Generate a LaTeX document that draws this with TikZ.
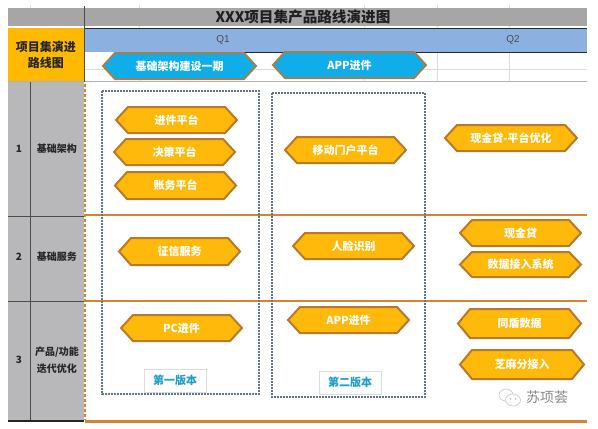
\documentclass[tikz,border=0pt]{standalone}
\usepackage{fontspec}
\setmainfont{Noto Sans CJK SC}
\newfontfamily\qfont{Liberation Sans}
\usetikzlibrary{calc}
\definecolor{hexo}{HTML}{FFB90A}
\definecolor{hexe}{HTML}{B8792A}
\definecolor{hexb}{HTML}{0FAEEA}
\definecolor{hexbe}{HTML}{A08050}
\definecolor{bandg}{HTML}{A6A6A6}
\definecolor{cellg}{HTML}{B8B8BA}
\definecolor{qblue}{HTML}{8CB1E0}
\definecolor{hdr}{HTML}{FFBA00}
\definecolor{rule}{HTML}{D9822F}
\definecolor{dots}{HTML}{5F7389}
\definecolor{grid}{HTML}{DDDDDD}
\definecolor{navy}{HTML}{1F2A3C}
\definecolor{wmk}{HTML}{8A8A8A}
\definecolor{verblue}{HTML}{1E9EC8}
\tikzset{
  hexshape/.style={draw=hexe,fill=hexo,line width=2pt,line join=miter},
  hexblue/.style={draw=hexbe,fill=hexb,line width=2pt,line join=miter},
  hextext/.style={text=white,font=\fontsize{11}{12}\selectfont\bfseries,inner sep=0pt},
  rowtext/.style={text=black!85,font=\fontsize{10}{17}\selectfont\bfseries,align=center,inner sep=0pt},
  numtext/.style={text=black!85,font=\fontsize{10}{12}\selectfont\bfseries,inner sep=0pt},
  dotbox/.style={draw=dots,line width=2.4pt,dash pattern=on 1.7pt off 1.3pt},
  verbox/.style={draw=grid,fill=white,line width=0.8pt,text=verblue,font=\fontsize{11}{12}\selectfont\bfseries},
  gridline/.style={draw=grid,line width=0.5pt},
  darkline/.style={draw=navy,line width=0.9pt},
}
\newcommand{\hexn}[7][hexshape]{%
  \draw[#1] (#3,#6) -- (#3+12,#5) -- (#4-12,#5) -- (#4,#6) -- (#4-12,2*#6-#5) -- (#3+12,2*#6-#5) -- cycle;
  \node[hextext] (#2) at ({(#3+#4)/2},#6) {#7};
}
\begin{document}
\begin{tikzpicture}[x=1pt,y=-1pt]
\useasboundingbox (0,0) rectangle (598,429);
\fill[white] (0,0) rectangle (598,429);
% light grid
\foreach \xx in {139,364,437,509} \draw[gridline] (\xx,5) -- (\xx,82);
\draw[gridline] (85,69) -- (587,69);
\draw[gridline] (30,5) -- (30,8);
% title band
\fill[bandg] (7.5,8) rectangle (587,26);
\node[inner sep=0pt,font=\fontsize{14.6}{16}\selectfont\bfseries,text=black!88] (title) at (303,17) {XXX项目集产品路线演进图};
% header
\fill[hdr] (7.5,28) rectangle (84,81);
\node[inner sep=0pt,align=center,text=black!85,font=\fontsize{12}{16}\selectfont\bfseries] (hdrtext) at (46,55) {项目集演进\\路线图};
% Q band
\fill[qblue] (85,28) rectangle (587,52);
\draw[darkline] (85,28) -- (587,28);
\draw[darkline] (139,52) -- (587,52);
\node[inner sep=0pt,text=black!70,font=\fontsize{10}{12}\selectfont\qfont] (q1) at (223,40) {Q1};
\node[inner sep=0pt,text=black!70,font=\fontsize{10}{12}\selectfont\qfont] (q2) at (513,40) {Q2};
% left cells
\fill[cellg] (7.5,82) rectangle (84,420);
\draw[gridline,draw=black!30] (8,81.5) -- (587,81.5);
\draw[draw=black!70,line width=0.7pt] (30.5,82) -- (30.5,420);
\draw[draw=black!70,line width=1pt] (7.5,216) -- (84,216);
\draw[draw=black!70,line width=1pt] (7.5,301) -- (84,301);
\draw[draw=black!85,line width=1.6pt] (7.5,421) -- (84,421);
\draw[draw=black!70,line width=0.7pt] (84.5,6) -- (84.5,82);
\node[numtext] (n1) at (19,149) {1};
\node[numtext] (n2) at (19,257) {2};
\node[numtext] (n3) at (19,360) {3};
\node[rowtext] (r1) at (57,149) {基础架构};
\node[rowtext] (r2) at (57,257) {基础服务};
\node[rowtext] (r3) at (57,360) {产品/功能\\迭代优化};
% orange rules
\draw[rule,line width=1.8pt] (85,215) -- (587,215);
\draw[rule,line width=1.1pt] (85,301) -- (587,301);
\draw[rule,line width=3pt] (85,421) -- (587,421);
\draw[rule,line width=1.2pt] (85,82) -- (85,420);
\draw[white,line width=1.2pt,dash pattern=on 2pt off 3pt] (85,82) -- (85,420);
% version boxes
\draw[dotbox] (102,91) rectangle (259,394);
\draw[dotbox] (272,93) rectangle (425,397);
\node[verbox,minimum width=62pt,minimum height=23pt,inner sep=0pt] (v1) at (175,380.5) {第一版本};
\node[verbox,minimum width=62pt,minimum height=23pt,inner sep=0pt] (v2) at (350,382.5) {第二版本};
% blue hexagons
\hexn[hexblue]{b1}{103}{256}{53}{66}{基础架构建设一期}
\hexn[hexblue]{b2}{273}{426}{52}{65}{APP进件}
% orange hexagons
\hexn{h1}{116}{237}{107}{120}{进件平台}
\hexn{h2}{114}{235}{139}{152}{决策平台}
\hexn{h3}{115}{236}{172}{185.5}{账务平台}
\hexn{h4}{285}{406}{137}{150}{移动门户平台}
\hexn{h5}{445}{577}{125}{138}{现金贷-平台优化}
\hexn{h6}{119}{240}{238}{251.5}{征信服务}
\hexn{h7}{121}{242}{315}{328}{PC进件}
\hexn{h8}{293}{414}{233}{246}{人脸识别}
\hexn{h9}{288}{409}{307}{320}{APP进件}
\hexn{h10}{460}{581}{220}{233}{现金贷}
\hexn{h11}{460}{581}{252}{264.5}{数据接入系统}
\hexn{h12}{458}{581}{309}{323.5}{同盾数据}
\hexn{h13}{460}{584}{350}{364.5}{芝麻分接入}
% watermark
\draw[wmk!50,line width=0.6pt,fill=white] (506,395) ellipse (7 and 6);
\draw[wmk!50,line width=0.6pt,fill=white] (513,400) ellipse (7.5 and 6);
\fill[wmk!60] (510.5,399) circle (0.8) (515.5,399) circle (0.8);
\node[inner sep=0pt,text=wmk,font=\fontsize{14}{15}\selectfont] (wm) at (547,397) {苏项荟};
\end{tikzpicture}
\end{document}
